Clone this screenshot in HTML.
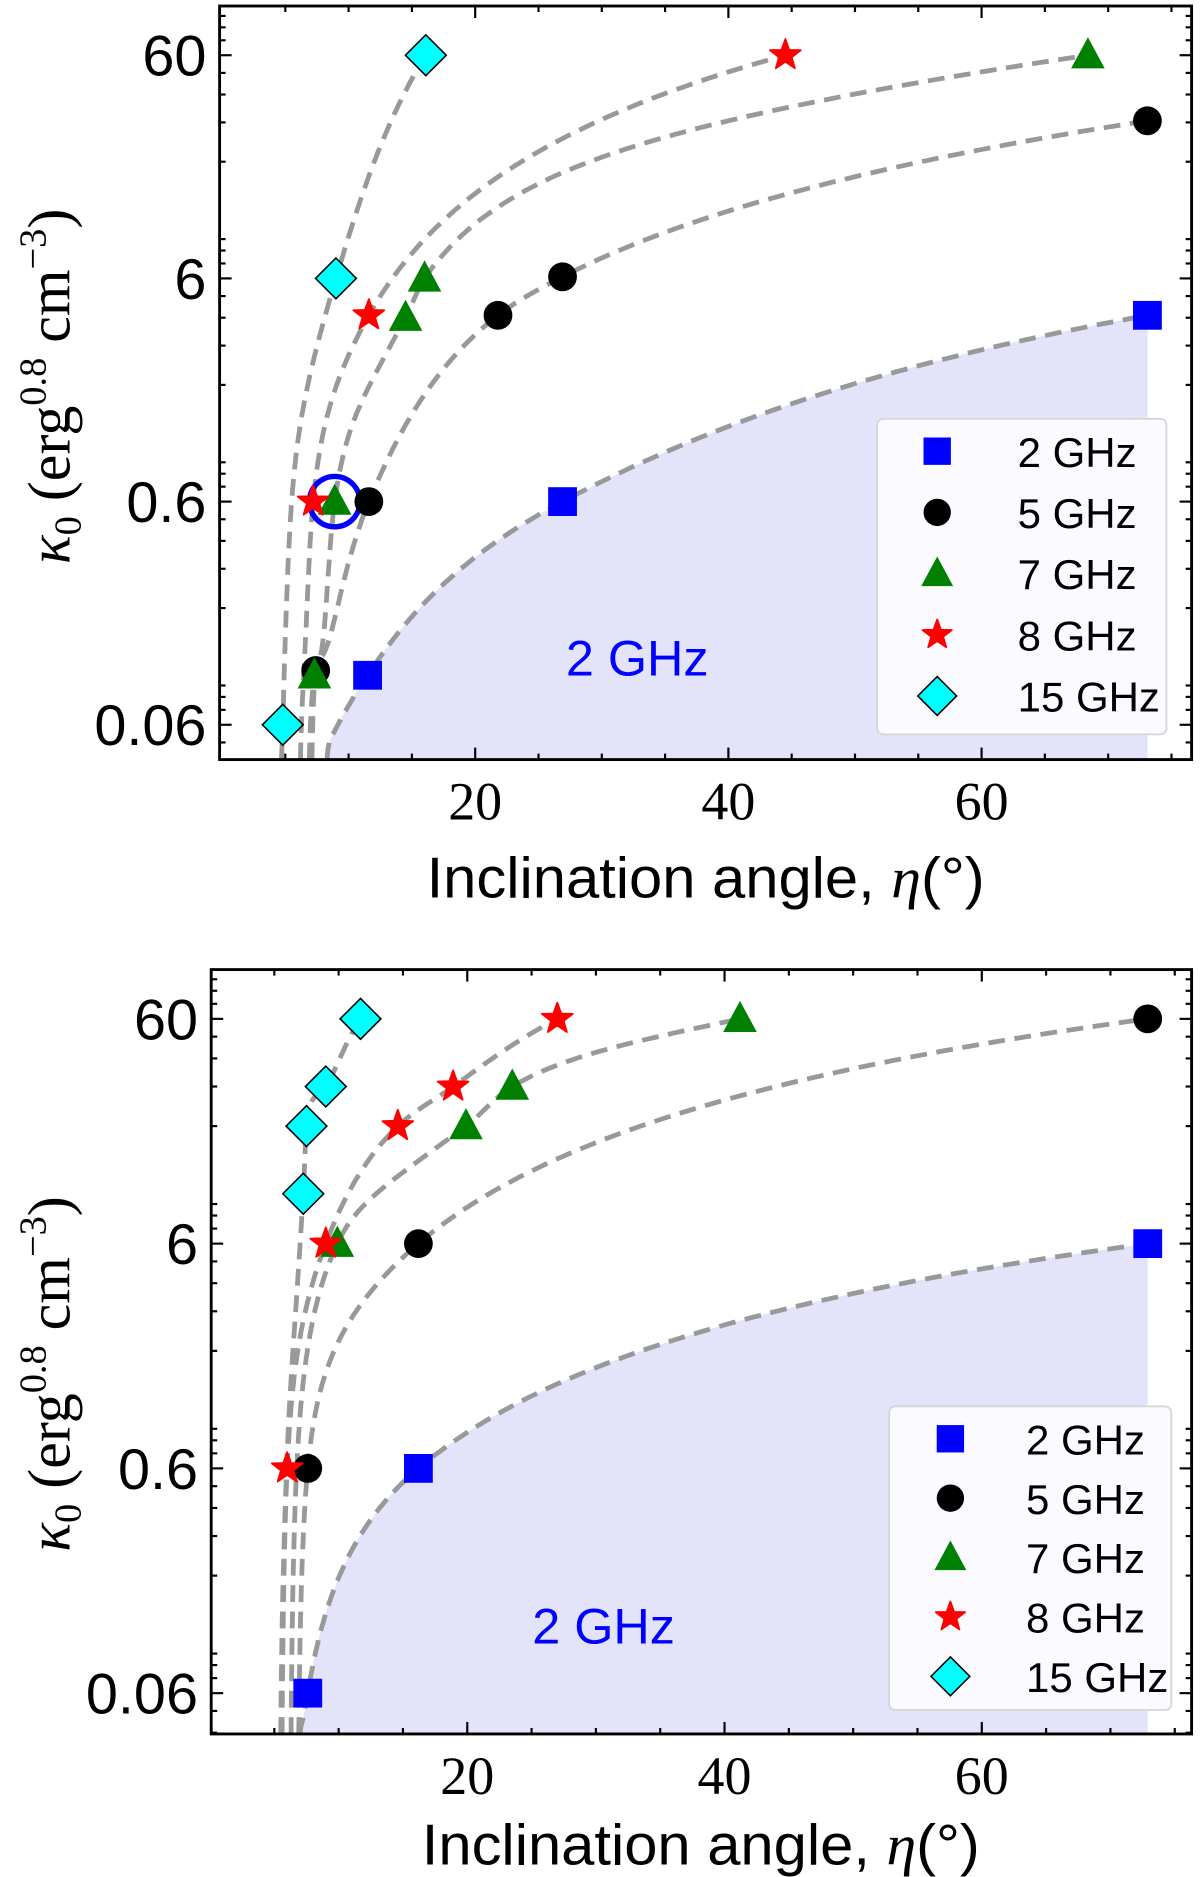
<!DOCTYPE html>
<html><head><meta charset="utf-8"><title>Kappa vs inclination</title>
<style>html,body{margin:0;padding:0;background:#fff;}svg{display:block;}</style></head>
<body>
<svg id="fig" xmlns="http://www.w3.org/2000/svg" width="1200" height="1877" viewBox="0 0 1000 1564.2" preserveAspectRatio="none"></svg>
<script>
// ---------- data ----------
const seriesNames = ["2 GHz","5 GHz","7 GHz","8 GHz","15 GHz"];
const xTicks = [20,40,60];
const yTicks = [0.06,0.6,6,60];
const yTickLabels = ["0.06","0.6","6","60"];
// panel A (top) measured points
const topX2 = [11.5,26.9,73.1];           const topY2 = [0.1,0.6,4.1];
const topX5 = [7.4,11.6,21.8,26.9,73.1];  const topY5 = [0.105,0.6,4.1,6.1,30.5];
const topX7 = [7.3,8.9,14.5,16,68.4];     const topY7 = [0.1,0.6,4,6,60];
const topX8 = [7.2,11.6,44.5];            const topY8 = [0.6,4.1,60];
const topX15 = [4.8,9,16.1];              const topY15 = [0.06,6,60];
// panel A fitted curves (anchor values)
const topCurveX2 = [8.3,11.5,26.9,73.1];            const topCurveY2 = [0.042,0.1,0.6,4.1];
const topCurveX5 = [7.1,7.4,8.5,11.6,21.8,26.9,73.1]; const topCurveY5 = [0.042,0.105,0.147,0.6,4.1,6.1,30.5];
const topCurveX7 = [6.9,7.3,8.0,8.9,14.5,16,68.4];  const topCurveY7 = [0.042,0.1,0.147,0.6,4,6,60];
const topCurveX8 = [6.2,6.6,7.2,11.6,44.5];         const topCurveY8 = [0.042,0.147,0.6,4.1,60];
const topCurveX15 = [4.7,4.8,5.0,5.5,9,16.1];       const topCurveY15 = [0.042,0.06,0.147,0.6,6,60];
// panel B (bottom) measured points
const botX2 = [7.6,16.2,72.9];            const botY2 = [0.06,0.6,6];
const botX5 = [7.6,16.2,72.9];            const botY5 = [0.6,6,60];
const botX7 = [9.9,19.9,23.5,41.2];       const botY7 = [6,20,30,60];
const botX8 = [6.0,9.0,14.6,18.9,27];     const botY8 = [0.6,6,20,30,60];
const botX15 = [7.25,7.5,9.0,11.7];       const botY15 = [10,20,30,60];
// panel B fitted curves
const botCurveX2 = [7.0,7.6,16.2,72.9];            const botCurveY2 = [0.0395,0.06,0.6,6];
const botCurveX5 = [6.9,7.6,16.2,72.9];            const botCurveY5 = [0.0395,0.6,6,60];
const botCurveX7 = [6.3,6.8,9.9,19.9,23.5,41.2];   const botCurveY7 = [0.0395,0.7,6,20,30,60];
const botCurveX8 = [5.6,6.0,9.0,14.6,18.9,27];     const botCurveY8 = [0.0395,0.6,6,20,30,60];
const botCurveX15 = [5.5,6.0,7.25,7.5,9.0,11.7];   const botCurveY15 = [0.0395,0.7,10,20,30,60];

// ---------- rendering ----------
const NS="http://www.w3.org/2000/svg";
const svg=document.getElementById('fig');
function mk(tag,attrs,parent){const e=document.createElementNS(NS,tag);for(const k in attrs)e.setAttribute(k,attrs[k]);(parent||svg).appendChild(e);return e;}
const colors=["#0000ff","#000000","#008000","#ff0000","#00ffff"];
const shapes=["square","circle","triangle","star","diamond"];

function monotone(xs,ys){const n=xs.length;const d=[],m=[];
 for(let i=0;i<n-1;i++)d.push((ys[i+1]-ys[i])/(xs[i+1]-xs[i]));
 m[0]=d[0];m[n-1]=d[n-2];
 for(let i=1;i<n-1;i++){m[i]=(d[i-1]*d[i]<=0)?0:(d[i-1]+d[i])/2;}
 for(let i=0;i<n-1;i++){if(d[i]===0){m[i]=m[i+1]=0;continue;}const a=m[i]/d[i],b=m[i+1]/d[i],s=a*a+b*b;if(s>9){const t=3/Math.sqrt(s);m[i]=t*a*d[i];m[i+1]=t*b*d[i];}}
 return function(x){let i=0;while(i<n-2&&x>xs[i+1])i++;const h=xs[i+1]-xs[i],t=(x-xs[i])/h;
  const h00=2*t*t*t-3*t*t+1,h10=t*t*t-2*t*t+t,h01=-2*t*t*t+3*t*t,h11=t*t*t-t*t;
  return h00*ys[i]+h10*h*m[i]+h01*ys[i+1]+h11*h*m[i+1];};}

function marker(shape,color,cx,cy,g,s){s=s||1;let e;
 if(shape==="square")e=mk('rect',{x:cx-12*s,y:cy-12*s,width:24*s,height:24*s,fill:color},g);
 else if(shape==="circle")e=mk('circle',{cx:cx,cy:cy,r:12*s,fill:color},g);
 else if(shape==="triangle")e=mk('polygon',{points:`${cx},${cy-15*s} ${cx+14*s},${cy+11*s} ${cx-14*s},${cy+11*s}`,fill:color},g);
 else if(shape==="star"){let p=[];for(let k=0;k<10;k++){const r=k%2?5.5*s:13.5*s;const a=-Math.PI/2+k*Math.PI/5;p.push((cx+r*Math.cos(a)).toFixed(1)+','+(cy+r*Math.sin(a)).toFixed(1));}
  e=mk('polygon',{points:p.join(' '),fill:color,'stroke':color,'stroke-width':1.5,'stroke-linejoin':'round'},g);}
 else e=mk('polygon',{points:`${cx},${cy-17*s} ${cx+17*s},${cy} ${cx},${cy+17*s} ${cx-17*s},${cy}`,fill:color,stroke:'#000','stroke-width':1.3},g);
 return e;}

function panel(cfg){
 const {L,R,T,B,xmin,xmax,ymin,ymax,name}=cfg;
 const xs=x=>L+(x-xmin)/(xmax-xmin)*(R-L);
 const ys=y=>B-(Math.log10(y)-Math.log10(ymin))/(Math.log10(ymax)-Math.log10(ymin))*(B-T);
 const g=mk('g',{});
 
 
 const curvePts=[];
 cfg.curves.forEach((c,ci)=>{const cx=c[0],cy=c[1];const x0=cx[0]-0.1;
  const us=cx.map(x=>Math.log(x-x0)),vs=cy.map(y=>Math.log10(y));const f=monotone(us,vs);
  const pts=[];const N=300;for(let k=0;k<=N;k++){const u=us[0]+(us[us.length-1]-us[0])*k/N;pts.push([xs(x0+Math.exp(u)),ys(Math.pow(10,f(u)))]);}
  curvePts.push(pts);});
 const p0=curvePts[0];
 const fillD='M'+p0.map(p=>p[0].toFixed(1)+','+p[1].toFixed(1)).join('L')+`L${p0[p0.length-1][0].toFixed(1)},${B}L${p0[0][0].toFixed(1)},${B}Z`;
 const fill=mk('path',{d:fillD,fill:'#e3e3fa',stroke:'none'},g);
 
 
 const lbl=mk('text',{x:xs(cfg.regionLabel[0]),y:ys(cfg.regionLabel[1]),'font-family':'"Liberation Sans",sans-serif','font-size':42,fill:'#0000ff','text-anchor':'middle'},g);
 lbl.textContent='2 GHz';
 
 
 curvePts.forEach((pts,ci)=>{const e=mk('path',{d:'M'+pts.map(p=>p[0].toFixed(1)+','+p[1].toFixed(1)).join('L'),fill:'none',stroke:'#999','stroke-width':4,'stroke-dasharray':'14,8'},g);
  
  });
 if(cfg.circle){const c=mk('circle',{cx:xs(cfg.circle[0]),cy:ys(cfg.circle[1]),r:21,fill:'none',stroke:'#0000ff','stroke-width':4.5},g);
  
  }
 cfg.points.forEach((s,si)=>{s[0].forEach((x,i)=>{const e=marker(shapes[si],colors[si],xs(x),ys(s[1][i]),g);
  
  });});
 const fr=mk('rect',{x:L,y:T,width:R-L,height:B-T,fill:'none',stroke:'#000','stroke-width':2.4},g);
 
 
 for(let v=5;v<xmax;v+=5){const major=v%20===0;const len=major?10:5;const x=xs(v);
  mk('line',{x1:x,y1:B,x2:x,y2:B-len,stroke:'#000','stroke-width':1.8},g);
  mk('line',{x1:x,y1:T,x2:x,y2:T+len,stroke:'#000','stroke-width':1.8},g);}
 xTicks.forEach(v=>{const t=mk('text',{x:xs(v),y:B+50,'font-family':'"Liberation Serif",serif','font-size':45,'text-anchor':'middle'},g);t.textContent=v;
  
  });
 for(let e=-3;e<=2;e++)for(let m=2;m<=9;m++){const v=m*Math.pow(10,e);if(v<ymin||v>ymax)continue;const len=m===6?10:5;const y=ys(v);
  mk('line',{x1:L,y1:y,x2:L+len,y2:y,stroke:'#000','stroke-width':1.8},g);
  mk('line',{x1:R,y1:y,x2:R-len,y2:y,stroke:'#000','stroke-width':1.8},g);}
 yTicks.forEach((v,i)=>{const t=mk('text',{x:L-11,y:ys(v)+17,'font-family':'"Liberation Sans",sans-serif','font-size':48,'text-anchor':'end'},g);t.textContent=yTickLabels[i];
  
  });
 const xt=mk('text',{x:cfg.xTitle[0],y:cfg.xTitle[1],'font-family':'"Liberation Sans",sans-serif','font-size':48,'text-anchor':'middle',textLength:465,lengthAdjust:'spacingAndGlyphs'},g);
 xt.innerHTML='Inclination angle, <tspan font-family="Liberation Serif,serif" font-style="italic">η</tspan>(°)';
 
 
 const yt=mk('text',{x:0,y:0,transform:`translate(${cfg.yTitle[0]},${cfg.yTitle[1]}) rotate(-90)`,'font-family':'"Liberation Serif",serif','font-size':50,'text-anchor':'middle'},g);
 yt.innerHTML='<tspan font-style="italic">κ</tspan><tspan font-size="32" dy="9">0</tspan><tspan dy="-9"> (erg</tspan><tspan font-size="32" dy="-20">0.8</tspan><tspan dy="20"> cm</tspan><tspan font-size="32" dy="-20">−3</tspan><tspan dy="20">)</tspan>';
 
 
 const lg=cfg.legend;const lgg=mk('g',{},g);
 
 
 mk('rect',{x:lg.x,y:lg.y,width:lg.w,height:lg.h,rx:5,fill:'#fbfbff',stroke:'#d6d6d6','stroke-width':1.5},lgg);
 seriesNames.forEach((n,i)=>{const cy=lg.y+lg.first+i*lg.step;
  const m=marker(shapes[i],colors[i],lg.mx,cy,lgg,0.95);
  
  
  const t=mk('text',{x:lg.tx,y:cy+13,'font-family':'"Liberation Sans",sans-serif','font-size':35},lgg);t.textContent=n;
  
  });
}

panel({name:'top-panel',L:183,R:993,T:5,B:633,xmin:-0.19,xmax:76.59,ymin:0.0419,ymax:99.7,
 curves:[[topCurveX2,topCurveY2],[topCurveX5,topCurveY5],[topCurveX7,topCurveY7],[topCurveX8,topCurveY8],[topCurveX15,topCurveY15]],
 points:[[topX2,topY2],[topX5,topY5],[topX7,topY7],[topX8,topY8],[topX15,topY15]],
 circle:[8.9,0.6],regionLabel:[32.8,0.1],xTitle:[588,748],yTitle:[58,322],
 legend:{x:731,y:349,w:241,h:263,first:27,step:51,mx:781,tx:848}});
panel({name:'bottom-panel',L:176,R:993,T:808,B:1445,xmin:0.093,xmax:76.31,ymin:0.0395,ymax:99.4,
 curves:[[botCurveX2,botCurveY2],[botCurveX5,botCurveY5],[botCurveX7,botCurveY7],[botCurveX8,botCurveY8],[botCurveX15,botCurveY15]],
 points:[[botX2,botY2],[botX5,botY5],[botX7,botY7],[botX8,botY8],[botX15,botY15]],
 circle:null,regionLabel:[30.6,0.1],xTitle:[584,1554],yTitle:[58,1145],
 legend:{x:741,y:1172,w:235,h:253,first:27,step:49.5,mx:792,tx:855}});
</script>
</body></html>
